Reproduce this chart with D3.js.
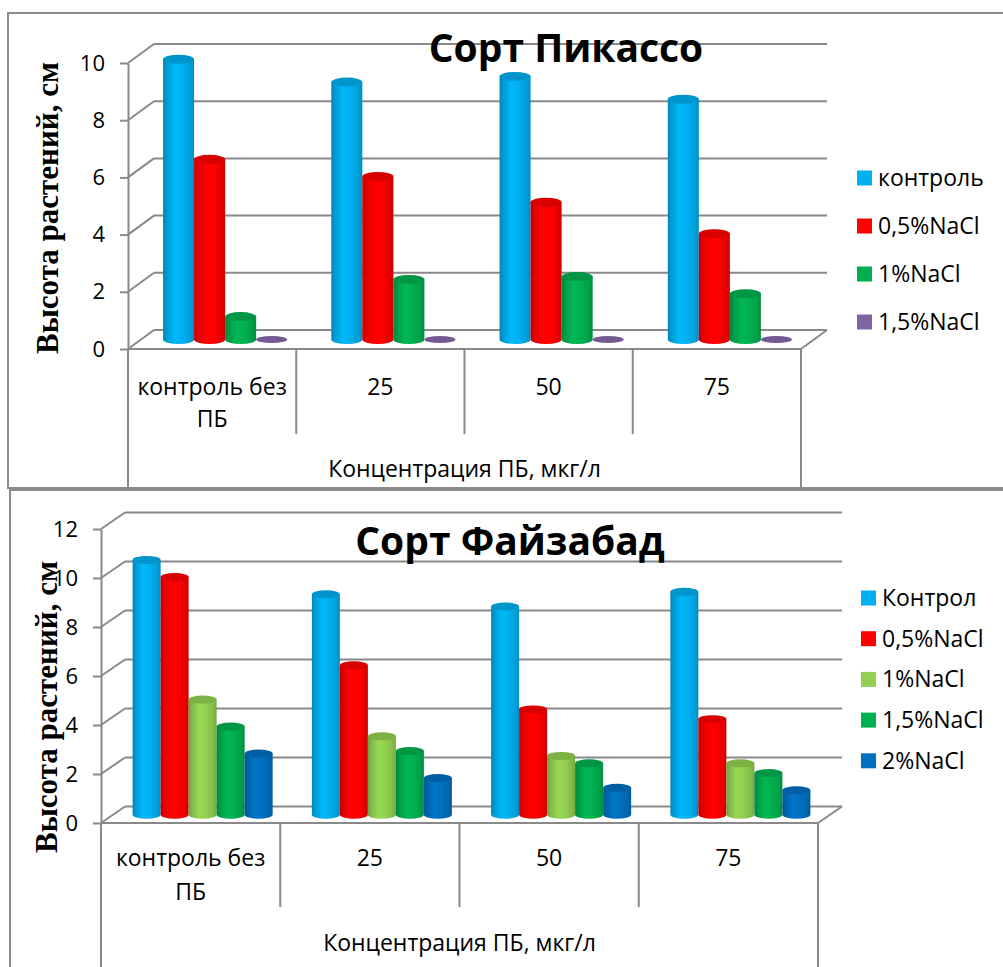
<!DOCTYPE html>
<html>
<head>
<meta charset="utf-8">
<script src="https://cdn.jsdelivr.net/npm/d3@7"></script>
<style>
  html, body { margin: 0; padding: 0; background: #ffffff; }
  svg { display: block; }
  text { font-family: "Open Sans", "Noto Sans", sans-serif; fill: #000; }
</style>
</head>
<body>
<script>
// ---- Сорт Пикассо ----
const picassoCategories = ["контроль без\nПБ", "25", "50", "75"];
const picassoSeries = ["контроль", "0,5%NaCl", "1%NaCl", "1,5%NaCl"];
const picassoControl = [9.8, 9.0, 9.2, 8.4];
const picassoNaCl05 = [6.3, 5.7, 4.8, 3.7];
const picassoNaCl1 = [0.8, 2.1, 2.2, 1.6];
const picassoNaCl15 = [0, 0, 0, 0];
const picassoTicks = [0, 2, 4, 6, 8, 10];
const picassoColors = ["#00B0F0", "#FF0000", "#00B050", "#8064A2"];

// ---- Сорт Файзабад ----
const faizabadCategories = ["контроль без\nПБ", "25", "50", "75"];
const faizabadSeries = ["Контрол", "0,5%NaCl", "1%NaCl", "1,5%NaCl", "2%NaCl"];
const faizabadControl = [10.4, 9.0, 8.5, 9.1];
const faizabadNaCl05 = [9.7, 6.1, 4.3, 3.9];
const faizabadNaCl1 = [4.7, 3.2, 2.4, 2.1];
const faizabadNaCl15 = [3.6, 2.6, 2.1, 1.7];
const faizabadNaCl2 = [2.5, 1.5, 1.1, 1.0];
const faizabadTicks = [0, 2, 4, 6, 8, 10, 12];
const faizabadColors = ["#00B0F0", "#FF0000", "#92D050", "#00B050", "#0070C0"];

const yTitle = "Высота растений, см";
const xTitle = "Концентрация ПБ, мкг/л";

const svg = d3.select("body").append("svg")
  .attr("width", 1003).attr("height", 967);
const defs = svg.append("defs");
const gridColor = "#898989";
const textSize = "23px";

let gradId = 0;
function bodyGradient(color) {
  const id = "cyl" + (gradId++);
  const c = d3.color(color);
  const g = defs.append("linearGradient").attr("id", id)
    .attr("x1", "0").attr("x2", "1").attr("y1", "0").attr("y2", "0");
  [[0, c.darker(0.75)], [0.12, c.darker(0.35)], [0.38, c.brighter(0.12)],
   [0.62, c], [0.88, c.darker(0.3)], [1, c.darker(0.6)]]
    .forEach(([o, col]) => g.append("stop").attr("offset", o).attr("stop-color", col.formatHex()));
  return id;
}

function drawChart(cfg) {
  const g = svg.append("g");
  const { left, right, y0, yTop, dx, dy } = cfg.plot;

  // outer frame
  g.append("rect")
    .attr("x", cfg.frame.x).attr("y", cfg.frame.y)
    .attr("width", cfg.frame.w).attr("height", cfg.frame.h)
    .attr("fill", "#fff").attr("stroke", "#8c8c8c").attr("stroke-width", 2);

  const y = d3.scaleLinear().domain([0, d3.max(cfg.ticks)]).range([y0, yTop]);
  const x = d3.scaleBand().domain(cfg.categories).range([left, right]).paddingInner(0).paddingOuter(0);
  const xs = d3.scaleBand().domain(cfg.series).range([0, x.bandwidth()]).paddingInner(0).paddingOuter(cfg.outerPad);

  // back wall gridlines and left wall diagonals
  const grid = g.append("g").attr("stroke", gridColor).attr("stroke-width", 2).attr("fill", "none");
  cfg.ticks.forEach(t => {
    grid.append("line")
      .attr("x1", left + dx).attr("x2", right + dx)
      .attr("y1", y(t) + dy).attr("y2", y(t) + dy);
    grid.append("line")
      .attr("x1", left).attr("x2", left + dx)
      .attr("y1", y(t)).attr("y2", y(t) + dy);
  });
  // floor edges
  grid.append("line").attr("x1", left).attr("x2", right).attr("y1", y0).attr("y2", y0);
  grid.append("line").attr("x1", right).attr("x2", right + dx).attr("y1", y0).attr("y2", y0 + dy);

  // category dividers below the floor
  x.domain().forEach((c, i) => {
    const xv = x(c);
    grid.append("line").attr("x1", xv).attr("x2", xv)
      .attr("y1", y0).attr("y2", i === 0 ? cfg.outerBottom : cfg.dividerBottom);
  });
  grid.append("line").attr("x1", right).attr("x2", right).attr("y1", y0).attr("y2", cfg.outerBottom);

  // value axis on the front left edge
  const axis = d3.axisLeft(y).tickValues(cfg.ticks).tickSize(8).tickSizeOuter(0).tickPadding(15);
  const ax = g.append("g").attr("transform", `translate(${left},0)`).call(axis);
  ax.select(".domain").attr("stroke", gridColor).attr("stroke-width", 2);
  ax.selectAll(".tick line").attr("stroke", gridColor).attr("stroke-width", 2);
  ax.selectAll(".tick text")
    .style("font-family", '"Open Sans", sans-serif').style("font-size", "22px").attr("fill", "#000");

  // cylinders, placed halfway into the depth of the floor
  const ox = dx / 2, oy = dy / 2;
  const bw = xs.bandwidth();
  const rx = bw / 2, ry = cfg.ry;
  cfg.series.forEach((s, si) => {
    const color = cfg.colors[si];
    const gid = bodyGradient(color);
    const topFill = d3.color(color).darker(0.45).formatHex();
    cfg.values[si].forEach((v, ci) => {
      const bx = x(cfg.categories[ci]) + xs(s) + ox;
      const yb = y(0) + oy;
      const yt = y(v) + oy;
      if (v > 0) {
        g.append("path")
          .attr("d", `M${bx},${yt} L${bx},${yb} A${rx},${ry} 0 0 0 ${bx + bw},${yb} L${bx + bw},${yt} Z`)
          .attr("fill", `url(#${gid})`);
      }
      g.append("ellipse")
        .attr("cx", bx + rx).attr("cy", yt).attr("rx", rx).attr("ry", v > 0 ? ry : ry * 0.8)
        .attr("fill", v > 0 ? topFill : d3.color(color).darker(0.3).formatHex());
    });
  });

  // category labels
  cfg.categories.forEach(c => {
    const lines = c.split("\n");
    const cx = x(c) + x.bandwidth() / 2;
    lines.forEach((ln, li) => {
      g.append("text").attr("x", cx).attr("y", cfg.labelY + li * cfg.labelLineH)
        .attr("text-anchor", "middle").attr("dy", "0.35em")
        .style("font-size", textSize).text(ln);
    });
  });

  // category axis title
  g.append("text").attr("x", (left + right) / 2).attr("y", cfg.axisTitleY)
    .attr("text-anchor", "middle").attr("dy", "0.35em")
    .style("font-size", textSize).text(xTitle);

  // value axis title
  g.append("text")
    .attr("transform", `translate(${cfg.yTitleX},${cfg.yTitleY}) rotate(-90)`)
    .attr("text-anchor", "middle").attr("dy", "0.35em")
    .style("font-family", '"Liberation Serif", "Times New Roman", serif')
    .style("font-weight", "bold").style("font-size", "31px").text(yTitle);

  // chart title
  g.append("text").attr("x", cfg.title.x).attr("y", cfg.title.y)
    .attr("text-anchor", "middle")
    .style("font-weight", "bold").style("font-size", "39px").text(cfg.title.text);

  // legend
  const lg = g.append("g");
  cfg.series.forEach((s, si) => {
    const ly = cfg.legend.y + si * cfg.legend.step;
    lg.append("rect").attr("x", cfg.legend.x).attr("y", ly - 7.5)
      .attr("width", 15).attr("height", 15).attr("fill", cfg.colors[si]);
    lg.append("text").attr("x", cfg.legend.x + 21).attr("y", ly).attr("dy", "0.35em")
      .style("font-size", textSize).text(s);
  });
}

drawChart({
  categories: picassoCategories,
  series: picassoSeries,
  values: [picassoControl, picassoNaCl05, picassoNaCl1, picassoNaCl15],
  colors: picassoColors,
  ticks: picassoTicks,
  frame: { x: 8, y: 13, w: 1010, h: 475 },
  plot: { left: 128, right: 801, y0: 349, yTop: 63, dx: 26, dy: -19 },
  outerPad: 0.71,
  ry: 4.5,
  labelY: 387, labelLineH: 32,
  dividerBottom: 434, outerBottom: 488,
  axisTitleY: 469,
  yTitleX: 47, yTitleY: 208,
  title: { text: "Сорт Пикассо", x: 566, y: 62 },
  legend: { x: 857, y: 178, step: 48 }
});

drawChart({
  categories: faizabadCategories,
  series: faizabadSeries,
  values: [faizabadControl, faizabadNaCl05, faizabadNaCl1, faizabadNaCl15, faizabadNaCl2],
  colors: faizabadColors,
  ticks: faizabadTicks,
  frame: { x: 10, y: 490, w: 1010, h: 500 },
  plot: { left: 101, right: 818, y0: 823, yTop: 529, dx: 24, dy: -16.5 },
  outerPad: 0.7,
  ry: 4,
  labelY: 858, labelLineH: 34,
  dividerBottom: 907, outerBottom: 967,
  axisTitleY: 943,
  yTitleX: 46, yTitleY: 707,
  title: { text: "Сорт Файзабад", x: 510, y: 555 },
  legend: { x: 861, y: 598, step: 40.7 }
});
</script>
</body>
</html>
